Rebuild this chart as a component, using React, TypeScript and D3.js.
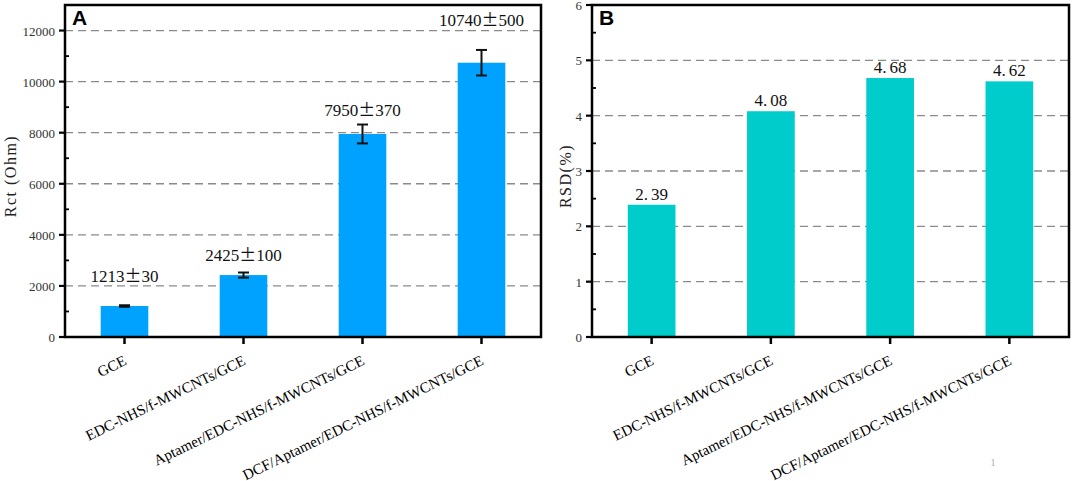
import React, { useEffect, useRef } from 'react';
import * as d3 from 'd3';

const categories = [
  'GCE',
  'EDC-NHS/f-MWCNTs/GCE',
  'Aptamer/EDC-NHS/f-MWCNTs/GCE',
  'DCF/Aptamer/EDC-NHS/f-MWCNTs/GCE',
];
const rctValues = [1213, 2425, 7950, 10740];
const rctErrors = [30, 100, 370, 500];
const rctLabelAt = [2160, 2980, 8660, 12170];
const rctTicks = [0, 2000, 4000, 6000, 8000, 10000, 12000];
const rctMinorTicks = [1000, 3000, 5000, 7000, 9000, 11000];
const rsdValues = [2.39, 4.08, 4.68, 4.62];
const rsdTicks = [0, 1, 2, 3, 4, 5, 6];
const rsdMinorTicks = [0.5, 1.5, 2.5, 3.5, 4.5, 5.5];

const W = 1072;
const H = 481;
const TOP = 5;
const BOTTOM = 337;
const SERIF = "'Liberation Serif', 'DejaVu Serif', serif";
const CJK = "'Noto Sans CJK SC', 'Liberation Serif', serif";

type Panel = {
  letter: string;
  left: number;
  right: number;
  yMax: number;
  ticks: number[];
  minor: number[];
  grid: number[];
  values: number[];
  errors?: number[];
  labelAt?: number[];
  labels: string[];
  color: string;
  title: string;
  titleX: number;
};

function drawPanel(svg: d3.Selection<SVGSVGElement, unknown, null, undefined>, p: Panel) {
  const g = svg.append('g');
  const x = d3
    .scaleBand<string>()
    .domain(categories)
    .range([p.left, p.right])
    .paddingInner(0.6)
    .paddingOuter(0.3);
  const y = d3.scaleLinear().domain([0, p.yMax]).range([BOTTOM, TOP]);
  const cx = (c: string) => (x(c) as number) + x.bandwidth() / 2;

  // gridlines
  g.selectAll('line.grid')
    .data(p.grid)
    .join('line')
    .attr('x1', p.left)
    .attr('x2', p.right)
    .attr('y1', (d) => y(d))
    .attr('y2', (d) => y(d))
    .attr('stroke', '#8a8a8a')
    .attr('stroke-width', 1.3)
    .attr('stroke-dasharray', '8,5');

  // bars
  g.selectAll('rect.bar')
    .data(p.values)
    .join('rect')
    .attr('x', (_, i) => x(categories[i]) as number)
    .attr('width', x.bandwidth())
    .attr('y', (d) => y(d))
    .attr('height', (d) => BOTTOM - y(d))
    .attr('fill', p.color);

  // error bars
  if (p.errors) {
    const errs = p.errors;
    const eg = g.append('g').attr('stroke', '#111').attr('stroke-width', 2).attr('fill', 'none');
    p.values.forEach((v, i) => {
      const c = cx(categories[i]);
      const y1 = y(v + errs[i]);
      const y0 = y(v - errs[i]);
      eg.append('line').attr('x1', c).attr('x2', c).attr('y1', y1).attr('y2', y0);
      eg.append('line').attr('x1', c - 5.5).attr('x2', c + 5.5).attr('y1', y1).attr('y2', y1);
      eg.append('line').attr('x1', c - 5.5).attr('x2', c + 5.5).attr('y1', y0).attr('y2', y0);
    });
  }

  // value labels
  p.values.forEach((v, i) => {
    const c = cx(categories[i]);
    const yy = p.labelAt ? y(p.labelAt[i]) : y(v) - 5;
    const t = g
      .append('text')
      .attr('x', c)
      .attr('y', yy)
      .attr('text-anchor', 'middle')
      .attr('font-family', SERIF)
      .attr('font-size', 17)
      .attr('fill', '#111');
    const s = p.labels[i];
    if (s.includes('±')) {
      const [a, b] = s.split('±');
      t.append('tspan').text(a);
      t.append('tspan').attr('font-family', CJK).text('±');
      t.append('tspan').text(b);
    } else {
      const [a, b] = s.split('.');
      t.append('tspan').text(a + '.');
      t.append('tspan').attr('dx', 3).text(b);
    }
  });

  // frame
  g.append('rect')
    .attr('x', p.left)
    .attr('y', TOP)
    .attr('width', p.right - p.left)
    .attr('height', BOTTOM - TOP)
    .attr('fill', 'none')
    .attr('stroke', '#000')
    .attr('stroke-width', 2.5);

  // y ticks
  g.selectAll('line.ymaj')
    .data(p.ticks)
    .join('line')
    .attr('x1', p.left - 6)
    .attr('x2', p.left)
    .attr('y1', (d) => y(d))
    .attr('y2', (d) => y(d))
    .attr('stroke', '#000')
    .attr('stroke-width', 2.2);
  g.selectAll('line.ymin')
    .data(p.minor)
    .join('line')
    .attr('x1', p.left)
    .attr('x2', p.left + 4)
    .attr('y1', (d) => y(d))
    .attr('y2', (d) => y(d))
    .attr('stroke', '#000')
    .attr('stroke-width', 1.8);
  g.selectAll('text.ytl')
    .data(p.ticks)
    .join('text')
    .attr('x', p.left - 10)
    .attr('y', (d) => y(d) + 5)
    .attr('text-anchor', 'end')
    .attr('font-family', SERIF)
    .attr('font-size', 13)
    .attr('fill', '#333')
    .text((d) => String(d));

  // x ticks and labels
  g.selectAll('line.xt')
    .data(categories)
    .join('line')
    .attr('x1', (d) => cx(d))
    .attr('x2', (d) => cx(d))
    .attr('y1', BOTTOM)
    .attr('y2', BOTTOM + 7)
    .attr('stroke', '#000')
    .attr('stroke-width', 2.5);
  g.selectAll('text.xl')
    .data(categories)
    .join('text')
    .attr('transform', (d) => `translate(${cx(d) + 3},${BOTTOM + 27}) rotate(-26)`)
    .attr('text-anchor', 'end')
    .attr('font-family', SERIF)
    .attr('font-size', 15)
    .attr('fill', '#000')
    .text((d) => d);

  // axis title
  g.append('text')
    .attr('transform', `translate(${p.titleX},176) rotate(-90)`)
    .attr('text-anchor', 'middle')
    .attr('dy', '0.35em')
    .attr('font-family', SERIF)
    .attr('font-size', 16)
    .attr('letter-spacing', 1.5)
    .attr('fill', '#222')
    .text(p.title);

  // panel letter
  g.append('text')
    .attr('x', p.left + 7)
    .attr('y', 25)
    .attr('font-family', "'Liberation Sans', Arial, sans-serif")
    .attr('font-weight', 'bold')
    .attr('font-size', 21)
    .attr('fill', '#000')
    .text(p.letter);
}

export default function App() {
  const ref = useRef<SVGSVGElement | null>(null);
  useEffect(() => {
    if (!ref.current) return;
    const svg = d3.select(ref.current);
    svg.selectAll('*').remove();
    svg.append('rect').attr('width', W).attr('height', H).attr('fill', '#fff');
    drawPanel(svg, {
      letter: 'A',
      left: 65,
      right: 541,
      yMax: 13000,
      ticks: rctTicks,
      minor: rctMinorTicks,
      grid: rctTicks.filter((t) => t > 0),
      values: rctValues,
      errors: rctErrors,
      labelAt: rctLabelAt,
      labels: rctValues.map((v, i) => `${v}±${rctErrors[i]}`),
      color: '#00a2ff',
      title: 'Rct (Ohm)',
      titleX: 10,
    });
    drawPanel(svg, {
      letter: 'B',
      left: 592,
      right: 1069,
      yMax: 6,
      ticks: rsdTicks,
      minor: rsdMinorTicks,
      grid: rsdTicks.filter((t) => t > 0 && t < 6),
      values: rsdValues,
      labels: rsdValues.map((v) => v.toFixed(2)),
      color: '#00cccc',
      title: 'RSD(%)',
      titleX: 565,
    });
    svg
      .append('text')
      .attr('x', 993)
      .attr('y', 466)
      .attr('text-anchor', 'middle')
      .attr('font-family', SERIF)
      .attr('font-size', 10)
      .attr('fill', '#aaa')
      .text('1');
  }, []);
  return (
    <svg
      ref={ref}
      width={W}
      height={H}
      style={{ position: 'absolute', left: 0, top: 0, display: 'block' }}
    />
  );
}
